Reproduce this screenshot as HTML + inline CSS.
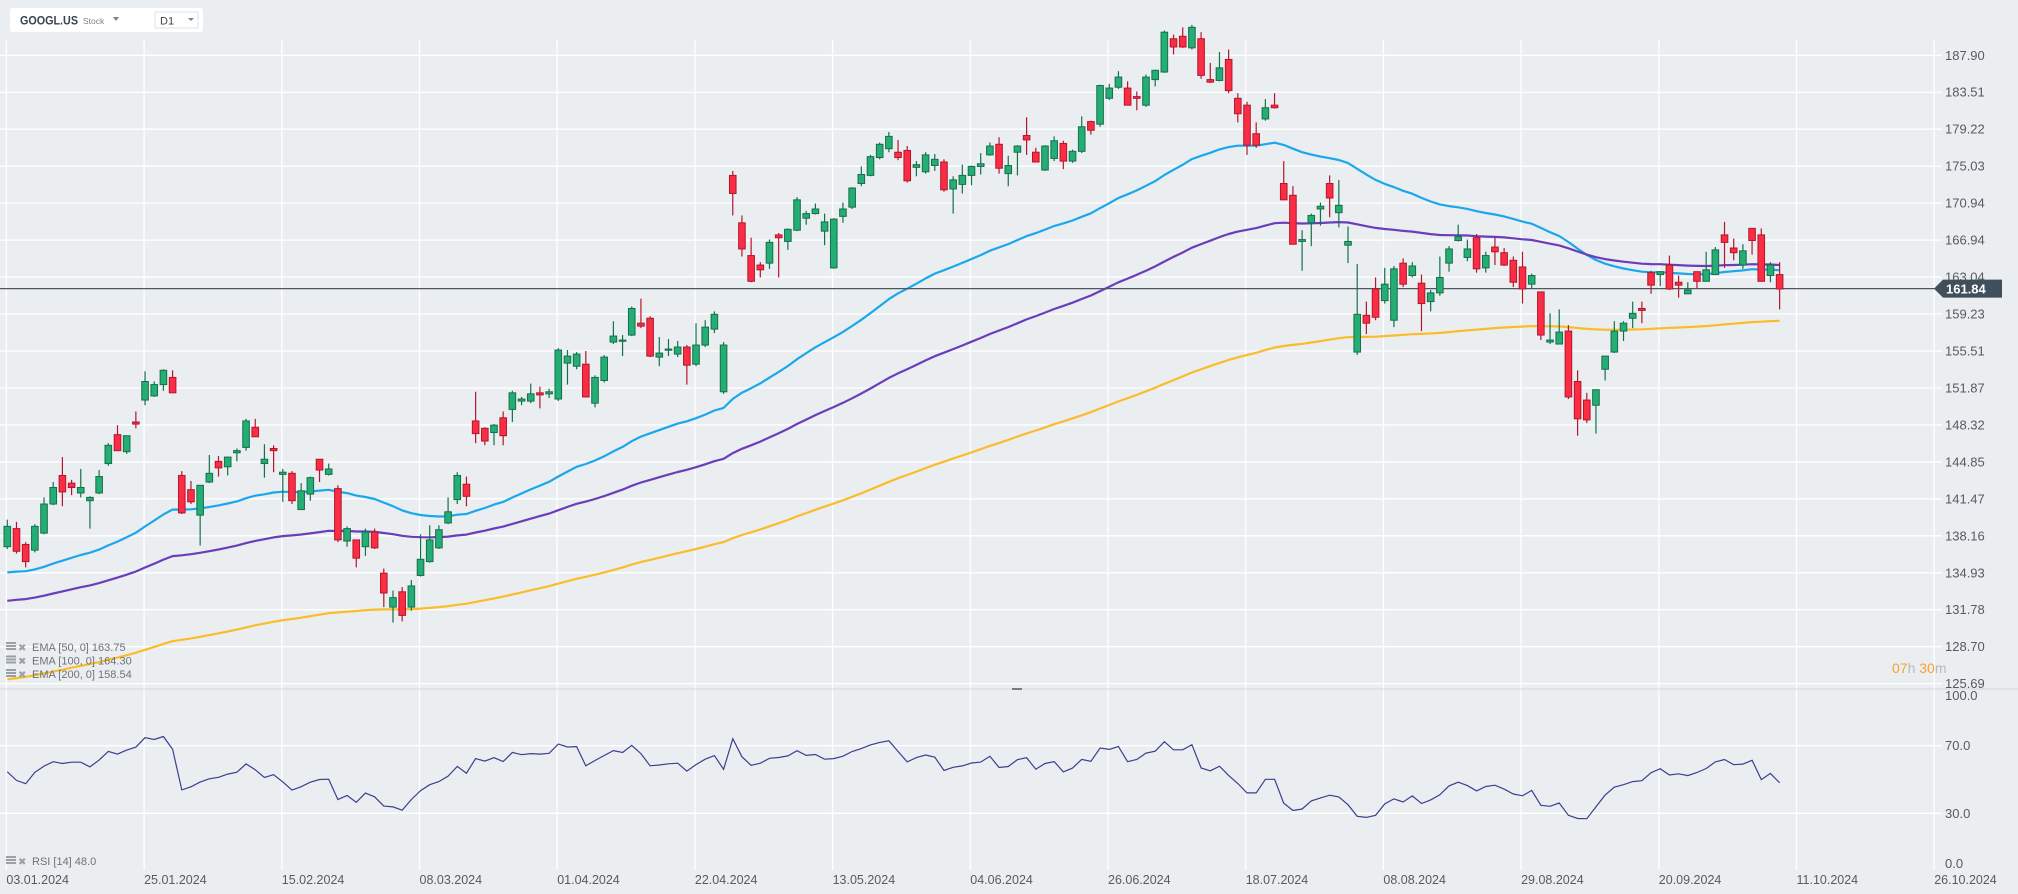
<!DOCTYPE html>
<html><head><meta charset="utf-8"><title>GOOGL.US D1</title>
<style>
html,body{margin:0;padding:0;background:#ebeef1;}
svg{display:block;font-family:"Liberation Sans",Arial,sans-serif;}
</style></head>
<body>
<svg id="chart" width="2018" height="894" viewBox="0 0 2018 894" xmlns="http://www.w3.org/2000/svg">
<rect x="0" y="0" width="2018" height="894" fill="#ebeef1"/>
<g id="grid"></g>
<g id="axes"></g>
<defs><clipPath id="pclip"><rect x="0" y="0" width="1937" height="688"/></clipPath><clipPath id="rclip"><rect x="0" y="690" width="1937" height="180"/></clipPath></defs>
<g id="emas" clip-path="url(#pclip)"></g>
<g id="candles" clip-path="url(#pclip)"></g>
<g id="rsi" clip-path="url(#rclip)"></g>
<line x1="0" y1="689" x2="2018" y2="689" stroke="#d3d7db" stroke-width="1"/>
<line x1="1012" y1="689" x2="1022" y2="689" stroke="#555" stroke-width="1.5"/>
<g>
<rect x="10" y="8" width="193" height="24" rx="3" fill="#ffffff"/>
<text x="20" y="24.5" font-size="12" font-weight="bold" fill="#37424c" textLength="58" lengthAdjust="spacingAndGlyphs">GOOGL.US</text>
<text x="83" y="24" font-size="8.5" fill="#7a8288">Stock</text>
<path d="M113 17 L119 17 L116 21 Z" fill="#7a8288"/>
<rect x="155" y="12" width="43" height="16" fill="#fff" stroke="#dde1e4"/>
<text x="160" y="24.5" font-size="11" fill="#444">D1</text>
<path d="M188 18 L194 18 L191 21 Z" fill="#7a8288"/>
</g>
<g id="legend"></g>
<g>
<text x="1892" y="673" font-size="14"><tspan fill="#f5a22f">07</tspan><tspan fill="#b5b9bd">h </tspan><tspan fill="#f5a22f">30</tspan><tspan fill="#b5b9bd">m</tspan></text>
</g>
<g id="pricetag"></g>
</svg>
<script>
// ---- data ----
const opens=[137.2,138.8,137.4,136.9,138.4,141.0,143.6,142.9,142.0,141.3,142.0,144.7,147.4,145.8,148.6,150.7,151.1,152.2,152.9,143.6,142.3,140.0,143.0,144.9,144.4,145.7,146.2,148.1,144.7,146.1,143.7,143.8,140.5,141.9,145.1,143.7,142.4,137.7,137.8,137.2,138.5,134.9,132.0,133.3,132.0,134.7,135.9,137.1,139.3,141.4,142.8,148.7,148.0,147.6,149.0,149.8,150.6,150.6,151.4,151.3,150.8,154.3,154.0,154.2,150.4,152.6,156.4,156.5,157.1,158.3,158.8,154.9,155.6,155.2,155.9,154.2,156.1,157.7,151.5,174.0,168.8,165.3,164.3,164.5,167.5,166.8,168.0,169.3,169.8,167.9,164.0,169.5,170.5,173.1,174.0,176.0,177.0,176.6,176.8,174.9,174.4,175.1,175.5,172.5,173.0,174.0,175.0,176.3,177.5,174.2,176.6,178.5,176.6,174.6,175.9,177.6,175.6,176.7,180.1,179.8,182.8,184.1,184.0,183.0,182.0,185.0,185.9,189.9,190.2,188.8,189.9,185.0,184.9,187.4,182.8,182.0,178.7,180.4,182.0,173.1,171.8,166.8,168.8,170.3,173.1,169.9,166.4,155.4,159.1,161.8,160.6,158.6,164.5,163.2,162.4,160.5,161.4,164.5,166.9,165.1,167.2,164.0,166.2,165.6,164.8,164.1,162.3,161.5,156.4,156.2,157.5,152.5,150.7,150.2,153.7,155.4,157.5,158.8,159.8,163.5,163.3,164.3,162.5,161.3,163.6,162.6,163.3,167.5,166.1,164.3,168.2,167.5,163.2,163.3];
const highs=[139.6,139.4,137.6,139.2,141.6,143.0,145.3,143.2,144.2,141.7,144.1,146.6,148.3,147.3,149.6,153.5,152.5,153.7,153.6,144.0,143.1,142.7,145.5,145.4,145.3,146.1,148.9,148.9,146.5,146.4,144.2,144.0,142.9,143.5,145.1,144.7,142.7,139.0,137.8,138.8,138.8,135.3,133.4,133.7,134.3,138.3,139.1,139.1,141.6,143.9,143.5,151.5,148.1,148.4,149.6,151.6,151.0,152.3,152.0,151.8,155.8,155.6,155.4,155.5,153.1,155.1,158.5,157.1,160.0,160.8,159.0,156.9,156.7,156.5,156.1,158.3,158.6,159.5,156.4,174.5,169.6,167.2,164.6,167.0,167.7,168.2,171.6,170.1,170.9,169.8,169.3,171.0,172.7,175.0,176.3,177.7,178.9,178.0,177.3,175.6,176.6,176.4,175.8,173.9,175.2,175.1,176.5,177.7,178.3,176.2,177.4,180.6,177.1,177.4,178.4,177.9,176.9,180.7,180.2,184.4,184.5,186.0,184.8,183.6,185.6,186.2,190.9,190.4,191.3,191.6,190.7,187.0,188.3,188.6,183.4,182.4,180.0,182.7,183.4,175.6,172.8,168.0,169.8,171.0,174.0,173.5,168.4,164.4,160.5,163.0,164.0,164.2,165.0,164.6,163.3,161.7,165.2,166.3,168.6,167.0,167.6,165.7,167.2,166.1,165.2,165.7,163.4,161.5,159.3,159.7,158.1,153.6,151.4,151.7,155.0,158.5,158.5,160.5,160.5,163.7,163.6,165.3,163.2,162.5,163.6,165.7,166.2,168.9,167.1,166.5,168.2,168.2,164.6,164.6];
const lows=[137.0,136.6,135.4,136.7,138.3,140.9,140.8,141.8,141.6,138.8,141.9,144.5,145.9,145.6,148.0,150.2,151.0,151.6,151.4,140.1,141.0,137.3,142.9,143.5,143.6,144.9,145.9,147.2,143.4,143.9,141.2,141.0,140.5,141.3,143.0,143.6,137.6,137.2,135.4,136.4,137.0,132.0,130.7,130.8,131.7,134.6,135.8,137.0,139.2,141.0,140.8,146.6,146.4,146.4,146.4,148.6,150.2,150.4,149.9,150.9,150.6,152.2,153.7,151.0,150.0,152.4,156.2,155.0,157.0,157.8,154.9,154.0,155.0,154.9,152.2,154.0,155.9,157.3,151.3,169.6,165.2,162.5,163.0,163.9,163.0,165.9,167.9,168.6,169.7,166.4,163.9,168.8,170.3,172.8,173.9,175.8,176.6,175.7,173.2,173.9,174.2,174.5,172.2,169.8,172.0,172.9,174.1,176.2,174.2,172.8,174.0,176.3,175.5,174.5,175.6,174.7,175.4,176.5,178.6,179.5,182.6,183.9,182.0,181.4,181.8,184.2,185.8,188.0,188.8,188.6,185.1,184.6,184.8,183.4,180.0,176.3,177.1,180.2,181.6,171.3,166.5,163.7,166.3,168.5,169.4,168.3,164.5,155.1,157.2,158.6,160.3,157.9,162.0,163.0,157.5,159.5,161.1,163.6,166.8,164.7,163.5,163.5,164.3,164.2,162.0,160.3,161.8,156.6,156.2,156.2,150.8,147.3,148.5,147.5,152.6,155.3,156.5,157.8,158.3,161.3,162.1,161.7,160.9,161.3,161.8,162.6,163.3,164.0,164.8,163.9,165.4,162.6,162.5,159.7];
const closes=[139.0,136.8,135.9,139.0,141.0,142.5,142.1,142.5,142.5,141.6,143.5,146.4,145.9,147.3,148.4,152.5,152.2,153.6,151.4,140.2,141.2,142.7,143.8,144.3,145.3,145.9,148.7,147.2,145.1,145.9,143.9,141.3,142.2,143.4,144.1,144.2,137.8,138.8,136.2,138.5,137.1,133.2,132.8,131.3,133.8,136.1,137.8,138.7,140.3,143.6,141.7,147.5,146.8,148.3,147.3,151.4,150.8,151.3,151.2,151.5,155.6,155.0,155.2,151.0,152.9,154.9,157.0,156.6,159.8,158.0,155.0,155.3,155.7,155.9,154.1,156.1,157.9,159.2,156.1,172.0,166.0,162.6,163.8,166.7,167.2,168.1,171.3,169.8,170.3,168.9,169.2,170.3,172.6,174.1,176.1,177.5,178.4,176.0,173.4,175.2,176.3,175.8,172.4,173.5,174.0,175.0,175.3,177.3,174.8,175.1,177.3,178.0,175.5,177.3,177.9,175.6,176.7,179.5,179.1,184.3,184.0,185.3,182.0,182.8,185.3,186.1,190.7,188.9,188.9,191.3,185.5,184.7,186.4,183.7,181.0,177.4,177.4,181.7,181.7,171.3,166.5,167.0,169.6,170.6,171.5,170.7,166.8,159.2,158.3,158.9,162.3,163.9,162.3,164.2,160.3,161.4,163.0,166.0,167.3,166.0,163.9,165.3,165.7,164.3,162.5,161.8,163.2,157.1,156.6,157.4,151.0,148.9,148.8,151.7,155.0,157.5,158.3,159.3,159.6,162.2,163.6,161.8,162.2,161.7,162.6,163.8,165.9,166.7,165.6,165.8,166.9,162.6,164.3,161.8];
const emaPeriods=[50,100,200];
const emaSeeds=[134.8,132.4,125.9];
const emaColors=['#1aa7ec','#6a3dbb','#fbbc2a'];
const priceTicks=[187.90,183.51,179.22,175.03,170.94,166.94,163.04,159.23,155.51,151.87,148.32,144.85,141.47,138.16,134.93,131.78,128.70,125.69];
const rsiTicks=[100,70,30,0];
const dateLabels=['03.01.2024','25.01.2024','15.02.2024','08.03.2024','01.04.2024','22.04.2024','13.05.2024','04.06.2024','26.06.2024','18.07.2024','08.08.2024','29.08.2024','20.09.2024','11.10.2024','26.10.2024'];
const rsiSeed=[0.9,0.75];
const lastPrice=161.84;

// ---- axes ----
const NS='http://www.w3.org/2000/svg';
const xOf=i=>7.3+i*9.183;
const yP=p=>55.3+(Math.log(187.9)-Math.log(p))*1562.7;
const yR=v=>864-1.69*v;
const xDate=k=>6.4+k*137.7;
function mk(tag,attrs,parent){const e=document.createElementNS(NS,tag);for(const k in attrs)e.setAttribute(k,attrs[k]);parent.appendChild(e);return e;}
const grid=document.getElementById('grid'),axes=document.getElementById('axes');

priceTicks.forEach(t=>{
  const y=yP(t);
  const l=mk('line',{x1:0,y1:y,x2:1942,y2:y,stroke:'#ffffff','stroke-width':1.3},grid);
  
  
  const tx=mk('text',{x:1945,y:y+4.5,'font-size':13,fill:'#555b61'},axes);
  tx.textContent=t.toFixed(2);
  
  
});
rsiTicks.forEach(t=>{
  const y=yR(t);
  if(t===70||t===30){
    const l=mk('line',{x1:0,y1:y,x2:1942,y2:y,stroke:'#ffffff','stroke-width':1.3},grid);
    
    
  }
  const tx=mk('text',{x:1945,y:y+(t===100?5:(t===0?4:4.5)),'font-size':13,fill:'#555b61'},axes);
  tx.textContent=t.toFixed(1);
  
  
});
dateLabels.forEach((d,k)=>{
  const x=xDate(k);
  const l=mk('line',{x1:x,y1:40,x2:x,y2:870,stroke:'#ffffff','stroke-width':1.3},grid);
  
  
  const tx=mk('text',{x:x,y:884,'font-size':12.5,fill:'#555b61'},axes);
  tx.textContent=d;
  
  
});

// ---- EMAs ----
const emaG=document.getElementById('emas');
const emaLast=[];
emaPeriods.forEach((n,j)=>{
  const k=2/(n+1);let v=emaSeeds[j];const pts=[];
  closes.forEach((c,i)=>{v=v+k*(c-v);pts.push(xOf(i).toFixed(1)+','+yP(v).toFixed(1));});
  emaLast.push(v);
  const pl=mk('polyline',{points:pts.join(' '),fill:'none',stroke:emaColors[j],'stroke-width':2.2,'stroke-linejoin':'round'},emaG);
  
  
});

// ---- last price line ----
const lp=mk('line',{x1:0,y1:yP(lastPrice),x2:1937,y2:yP(lastPrice),stroke:'#4b5863','stroke-width':1.2},grid.parentNode);


grid.parentNode.insertBefore(lp,document.getElementById('candles'));

// ---- candles ----
const cg=document.getElementById('candles');
closes.forEach((c,i)=>{
  const o=opens[i],up=c>=o,x=xOf(i);
  const fill=up?'#24ad74':'#fb2d45',stroke=up?'#15704a':'#b3162c';
  const g=mk('g',{},cg);
  
  
  mk('line',{x1:x,y1:yP(highs[i]),x2:x,y2:yP(lows[i]),stroke:stroke,'stroke-width':1.2},g);
  const top=yP(Math.max(o,c)),bot=yP(Math.min(o,c));
  mk('rect',{x:x-3.3,y:top,width:6.6,height:Math.max(1.2,bot-top),fill:fill,stroke:stroke,'stroke-width':1},g);
});

// ---- RSI ----
const rg=document.getElementById('rsi');
let ag=rsiSeed[0],al=rsiSeed[1];const rpts=[];let lastR=50;
closes.forEach((c,i)=>{
  if(i>0){const d=c-closes[i-1];ag=(ag*13+Math.max(d,0))/14;al=(al*13+Math.max(-d,0))/14;}
  lastR=100-100/(1+ag/al);
  rpts.push(xOf(i).toFixed(1)+','+yR(lastR).toFixed(1));
});
const rl=mk('polyline',{points:rpts.join(' '),fill:'none',stroke:'#3b3f8f','stroke-width':1.2},rg);



// ---- legend ----
const lg=document.getElementById('legend');
function legendRow(y,label,name){
  const g=mk('g',{},lg);
  
  
  mk('rect',{x:6,y:y-5,width:10,height:2,fill:'#9aa0a6'},g);
  mk('rect',{x:6,y:y-2,width:10,height:2,fill:'#9aa0a6'},g);
  mk('rect',{x:6,y:y+1,width:10,height:2,fill:'#9aa0a6'},g);
  const x=mk('text',{x:18,y:y+4,'font-size':10,fill:'#9aa0a6'},g);x.textContent='✖';
  const t=mk('text',{x:32,y:y+4,'font-size':11,fill:'#6d7378'},g);t.textContent=label;
}
emaPeriods.forEach((n,j)=>legendRow(647+j*13.5,'EMA  ['+n+',  0]  '+emaLast[j].toFixed(2),'legend-entry-ema-'+n));
legendRow(861,'RSI  [14]  '+lastR.toFixed(1),'legend-entry-rsi');

// ---- price tag ----
const pt=document.getElementById('pricetag');const py=yP(lastPrice);
mk('path',{d:`M1934 ${py} L1943 ${py-9} L2002 ${py-9} L2002 ${py+9} L1943 ${py+9} Z`,fill:'#3f4f5b'},pt);
const ptt=mk('text',{x:1946,y:py+5,'font-size':13,'font-weight':'bold',fill:'#ffffff'},pt);ptt.textContent=lastPrice.toFixed(2);
</script>
</body></html>
